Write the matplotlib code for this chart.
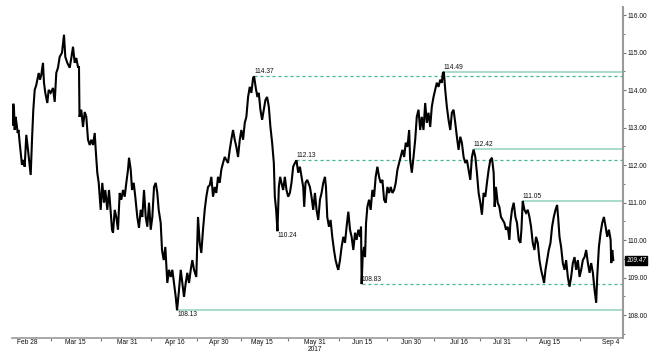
import numpy as np
import matplotlib
matplotlib.use("Agg")
import matplotlib.pyplot as plt

plt.rcParams['font.family'] = ['Liberation Sans', 'DejaVu Sans']

# 交易日偏移（2017-02-28 = 0），从图上读出的 USDJPY 走势
days = [
    -3.28, -3.14, -2.98, -2.82, -2.64, -2.41, -2.13, -1.95, -1.68, -1.38,
    -1.15, -0.80, -0.53, -0.16, 0.23, 0.85, 1.15, 1.45, 1.77, 2.13,
    2.69, 2.98, 3.28, 3.67, 3.90, 4.20, 4.66, 4.98, 5.44, 5.97,
    6.36, 6.72, 7.11, 7.50, 8.03, 8.49, 8.79, 9.25, 9.80, 10.17,
    10.56, 10.95, 11.31, 11.70, 11.93, 12.05, 12.46, 12.85, 13.24, 13.61,
    14.00, 14.39, 14.76, 15.15, 15.54, 15.77, 16.13, 16.46, 16.91, 17.28,
    17.67, 17.97, 18.43, 18.82,
    19.05, 19.51, 19.74, 20.13, 20.49, 20.88, 21.27, 21.64, 22.03, 22.42,
    22.79, 23.18, 23.41, 23.80, 24.10, 24.49, 24.85, 25.31, 25.70, 26.09,
    26.46, 26.85, 27.24, 27.61, 28.00, 28.39, 28.76, 29.15, 29.54, 29.90,
    30.22, 30.68, 30.98, 31.37, 31.74, 32.20, 32.59, 32.98, 33.35, 33.74,
    34.13, 34.43, 34.82, 35.28, 35.64, 36.03, 36.42, 36.79, 37.18, 37.57,
    37.94, 38.33, 38.85, 39.24, 39.63, 40.00, 40.39, 40.78, 41.15, 41.54,
    41.93,
    42.30, 42.69, 43.08, 43.44, 43.83, 44.22, 44.59, 44.98, 45.37, 45.74,
    46.13, 46.52, 46.89, 47.28, 47.67, 48.04, 48.43, 48.82, 49.19, 49.58,
    49.97, 50.34, 50.73, 51.12, 51.49, 51.88, 52.11, 52.50, 52.87, 53.19,
    53.56, 53.95, 54.34, 54.71, 55.10, 55.49, 55.86, 56.25, 56.64, 56.87,
    57.17, 57.47, 57.79, 58.09, 58.39, 58.78, 59.17, 59.54, 59.93, 60.32,
    60.69, 61.08, 61.47, 61.84, 62.23, 62.62, 62.99, 63.38, 63.61, 63.91,
    64.30,
    64.92, 65.29, 65.68, 66.07, 66.44, 66.83, 67.22, 67.59, 67.98, 68.37,
    68.60, 68.90, 69.29, 69.66, 70.05, 70.44, 70.81, 71.20, 71.43, 71.82,
    72.19, 72.58, 72.97, 73.34, 73.73, 74.12, 74.49, 74.88, 75.27, 75.64,
    76.03, 76.42, 76.65, 76.79, 77.02, 77.34, 77.57, 77.80, 78.10, 78.49,
    78.86, 79.25, 79.64, 80.01, 80.40, 80.79, 81.16, 81.55, 81.94, 82.31,
    82.70, 83.09, 83.46, 83.85, 84.24, 84.61, 85.00, 85.39, 85.76, 86.15,
    86.54, 86.91, 87.30, 87.69, 87.92,
    88.30, 88.69, 89.08, 89.44, 89.83, 90.22, 90.59, 90.98, 91.37, 91.74,
    92.13, 92.52, 92.89, 93.28, 93.67, 94.04, 94.43, 94.82, 95.19, 95.42,
    95.65, 95.97, 96.34, 96.73, 97.12, 97.49, 97.88, 98.27, 98.64, 99.03,
    99.42, 99.79, 100.18, 100.57, 100.94, 101.33, 101.72, 102.09, 102.48, 102.87,
    103.24, 103.63, 104.02, 104.39, 104.78, 105.17, 105.54, 105.93, 106.32, 106.69,
    107.08, 107.31, 107.61, 108.00, 108.39, 108.76, 109.15, 109.54, 109.91, 110.30,
    110.69,
    110.92, 111.29, 111.68, 112.07, 112.44, 112.83, 113.22, 113.45, 113.75, 114.14,
    114.51, 114.90, 115.29, 115.66, 116.05, 116.44, 116.81, 117.20, 117.59, 117.96,
    118.35, 118.65, 118.97, 119.34, 119.73, 120.12, 120.49, 120.88, 121.27, 121.64,
    121.87, 122.19, 122.56, 122.95, 123.34, 123.71, 124.10, 124.49, 124.86, 125.25,
    125.64, 126.01, 126.40, 126.79, 127.16, 127.55, 127.94, 128.31, 128.70, 129.09,
    129.46, 129.85, 130.24, 130.61, 130.84, 131.23, 131.62, 131.99, 132.38, 132.77,
    133.14, 133.53, 133.92, 134.06, 134.29, 134.52,
]
price = [
    113.08, 113.64, 113.48, 112.94, 113.29, 113.13, 112.86, 112.94, 112.60, 112.28,
    112.01, 112.14, 111.96, 112.81, 112.41, 111.74, 112.68, 113.48, 114.01, 114.14,
    114.46, 114.28, 114.41, 114.73, 114.20, 113.93, 113.66, 114.01, 113.93, 114.06,
    113.69, 114.46, 114.60, 114.89, 115.00, 115.48, 114.89, 114.73, 114.60, 114.86,
    115.16, 114.73, 114.86, 114.62, 114.62, 113.29, 113.48, 113.02, 113.42, 113.29,
    112.68, 112.54, 112.68, 112.54, 112.86, 112.41, 111.80, 111.53, 110.81, 111.53,
    111.00, 111.34, 110.81, 111.34,
    111.00, 110.28, 110.20, 110.81, 110.62, 110.28, 111.26, 111.08, 111.34, 111.16,
    111.53, 111.88, 112.20, 111.88, 111.34, 111.53, 111.16, 110.62, 110.33, 110.81,
    110.62, 111.34, 110.62, 110.36, 111.00, 110.28, 110.62, 111.42, 111.53, 111.26,
    110.81, 110.46, 109.74, 109.47, 109.82, 108.86, 109.21, 109.02, 109.21, 108.86,
    108.49, 108.13, 108.60, 109.21, 108.86, 108.49, 108.86, 109.13, 108.86, 109.21,
    109.47, 109.21, 109.02, 110.62, 109.93, 109.66, 110.28, 110.81, 111.16, 111.42,
    111.47,
    111.69, 111.16, 111.42, 111.26, 111.69, 111.53, 111.88, 112.06, 112.22, 112.14,
    112.06, 112.41, 112.68, 112.94, 112.68, 112.49, 112.22, 112.68, 112.94, 112.68,
    113.13, 113.29, 113.82, 114.09, 113.93, 114.33, 114.37, 114.06, 113.82, 113.93,
    113.48, 113.21, 113.48, 113.74, 113.82, 113.56, 113.02, 112.60, 112.06, 111.16,
    110.81, 110.24, 111.42, 111.69, 111.53, 111.34, 111.69, 111.34, 111.16, 111.26,
    111.53, 111.96, 112.06, 112.13, 111.80, 111.96, 111.69, 111.42, 110.89, 111.53,
    111.61,
    111.42, 111.16, 110.81, 111.26, 110.81, 110.54, 111.08, 111.26, 111.53, 111.69,
    111.42, 110.62, 110.36, 110.54, 110.09, 109.74, 109.47, 109.29, 109.21, 109.47,
    109.82, 110.09, 109.93, 110.36, 110.76, 110.28, 110.09, 109.74, 110.20, 110.01,
    110.28, 110.09, 110.36, 108.83, 109.55, 109.82, 109.55, 110.46, 110.89, 111.08,
    110.81, 111.34, 111.16, 111.69, 111.96, 111.69, 111.53, 111.61, 111.08, 111.00,
    111.42, 111.26, 111.42, 111.26, 111.34, 111.53, 111.88, 112.06, 112.22, 112.41,
    112.22, 112.60, 112.49, 112.94, 112.14,
    111.80, 112.22, 112.68, 113.29, 113.48, 112.94, 113.29, 112.94, 113.66, 113.13,
    113.40, 113.02, 113.56, 113.82, 114.01, 114.20, 114.09, 114.28, 114.20, 114.46,
    114.49, 114.01, 113.56, 113.21, 112.94, 113.40, 113.48, 113.13, 112.76, 112.41,
    112.76, 112.60, 112.22, 112.06, 112.14, 111.88, 111.61, 112.22, 112.42, 112.22,
    111.80, 111.26, 111.00, 110.68, 111.26, 111.16, 111.53, 111.88, 112.14, 112.20,
    111.80, 110.89, 111.42, 111.00, 110.89, 110.62, 110.54, 110.46, 110.28, 110.36,
    110.01,
    110.46, 110.81, 111.00, 110.62, 110.46, 110.01, 109.93, 110.28, 111.05, 110.81,
    110.73, 110.81, 110.62, 110.36, 109.93, 109.74, 110.09, 109.93, 109.47, 109.21,
    109.02, 108.86, 109.21, 109.47, 109.74, 109.93, 110.36, 110.62, 110.81, 110.94,
    110.62, 110.09, 109.82, 109.39, 109.21, 109.47, 109.02, 108.76, 109.02, 109.39,
    109.55, 109.21, 109.47, 109.02, 109.21, 109.47, 109.55, 109.74, 109.39, 109.13,
    109.39, 109.13, 108.67, 108.33, 109.02, 109.82, 110.20, 110.46, 110.62, 110.36,
    110.09, 110.28, 110.01, 109.39, 109.74, 109.47,
]

tick_dates = ['2017-02-28', '2017-03-15', '2017-03-31', '2017-04-16', '2017-04-30',
              '2017-05-15', '2017-05-31', '2017-06-15', '2017-06-30', '2017-07-16',
              '2017-07-31', '2017-08-15', '2017-09-04']
tick_labels = ['Feb 28', 'Mar 15', 'Mar 31', 'Apr 16', 'Apr 30', 'May 15',
               'May 31\n2017', 'Jun 15', 'Jun 30', 'Jul 16', 'Jul 31', 'Aug 15', 'Sep 4']

# 阻力/支撑位
solid_levels = [114.49, 112.42, 111.05, 108.13]
dashed_levels = [114.37, 112.13, 108.83]
below_labels = [108.13, 110.24]
plain_labels = [110.24]

SOLID_C = '#a9dcc9'
DASH_C = '#3cb98b'
TXT_C = '#111111'
FS = 4.8


def level_day(level):
    p = np.asarray(price)
    i = int(np.argmin(np.abs(p - level)))
    return days[i]


def main():
    fig = plt.figure(figsize=(6.62, 3.55), dpi=100)
    ax = fig.add_axes([12 / 662, 17.3 / 355, 611 / 662, 330.7 / 355])

    x_right = 136.76
    ax.set_xlim(-3.44, x_right)
    ax.set_ylim(107.40, 116.22)

    ax.plot(days, price, color='black', lw=1.5, solid_joinstyle='miter', zorder=3)

    for lv in solid_levels:
        ax.hlines(lv, level_day(lv), x_right, color=SOLID_C, lw=1.4, zorder=2)
    for lv in dashed_levels:
        ax.hlines(lv, level_day(lv), x_right, color=DASH_C, lw=0.9,
                  linestyle=(0, (2.4, 2.4)), zorder=2)

    for lv in solid_levels + dashed_levels + plain_labels:
        below = lv in below_labels
        ax.annotate(f'{lv:.2f}', xy=(level_day(lv), lv), xytext=(0, -0.8 if below else 0.8),
                    textcoords='offset points', ha='left',
                    va='top' if below else 'bottom', fontsize=FS, color=TXT_C, zorder=4)

    # 最新价标签
    last = price[-1]
    ax.annotate(f'{last:.2f}', xy=(1, last), xycoords=('axes fraction', 'data'),
                xytext=(2.4, 0), textcoords='offset points', ha='left', va='center',
                fontsize=FS, color='white', style='italic', annotation_clip=False,
                bbox=dict(boxstyle='square,pad=0.15', fc='black', ec='black'))

    # 坐标轴样式
    for s in ['left', 'top']:
        ax.spines[s].set_visible(False)
    ax.spines['right'].set_color('#9a9a9a')
    ax.spines['right'].set_linewidth(1.5)
    ax.spines['bottom'].set_color('#9a9a9a')
    ax.spines['bottom'].set_linewidth(1.2)

    ax.yaxis.tick_right()
    ax.set_yticks(np.arange(108, 116.01, 1))
    ax.set_yticks(np.arange(107.5, 116.1, 0.5), minor=True)
    ax.yaxis.set_major_formatter('{x:.2f}')
    ax.tick_params(axis='y', which='major', length=2.3, width=0.8, color='#777777',
                   pad=0.8, labelsize=FS, labelcolor=TXT_C)
    ax.tick_params(axis='y', which='minor', length=1.5, width=0.7, color='#777777')

    pos = np.busday_count('2017-02-28', tick_dates).astype(float)
    ax.set_xticks(pos)
    ax.set_xticklabels(tick_labels)
    ax.set_xticks((pos[:-1] + pos[1:]) / 2, minor=True)
    ax.tick_params(axis='x', which='major', length=0, pad=1.0, labelsize=FS,
                   labelcolor=TXT_C)
    ax.tick_params(axis='x', which='minor', length=2.0, width=0.8, color='#777777')
    for lbl in ax.get_xticklabels():
        lbl.set_linespacing(0.95)

    fig.savefig('out.png', dpi=100)


if __name__ == '__main__':
    main()
